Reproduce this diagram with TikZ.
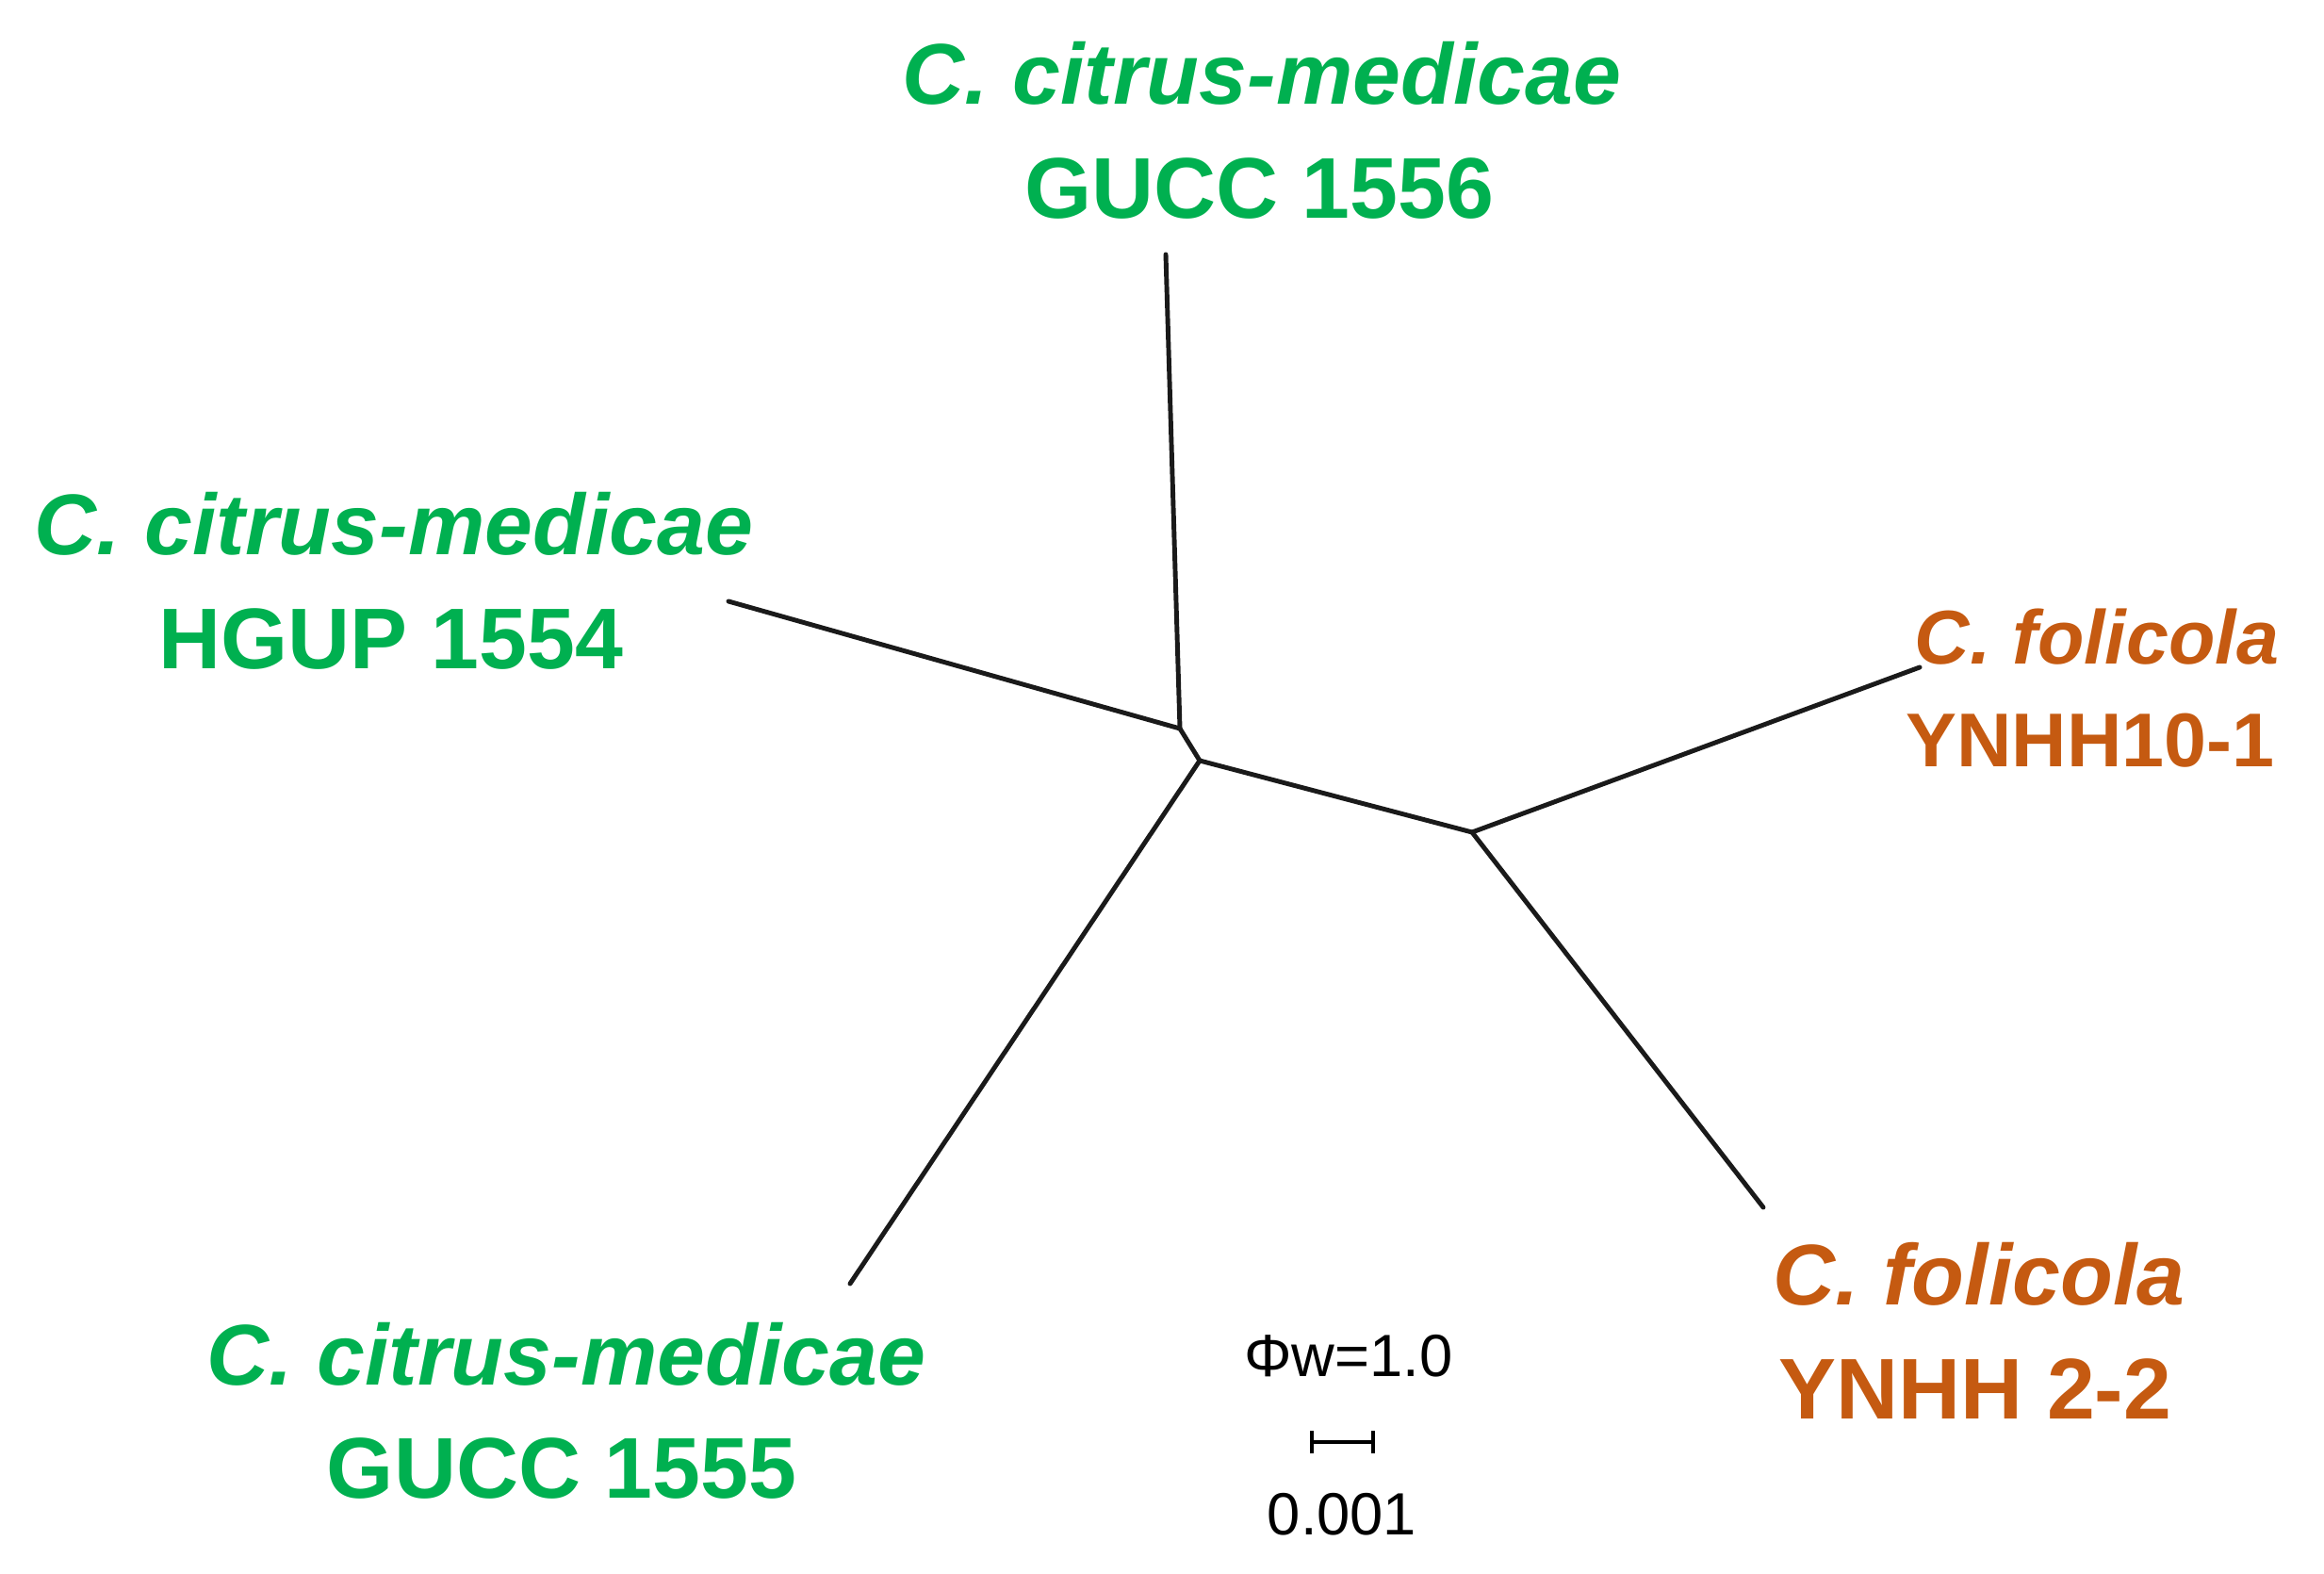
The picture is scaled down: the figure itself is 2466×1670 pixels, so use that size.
\documentclass[tikz,border=0pt]{standalone}
\usepackage{fontspec}
\setmainfont{Liberation Sans}
\definecolor{cmgreen}{HTML}{00B050}
\definecolor{fogold}{HTML}{C55A11}
\definecolor{branch}{HTML}{1A1A1A}
\begin{document}
\begin{tikzpicture}[x=0.01cm,y=-0.01cm,
  branchline/.style={draw=branch,line width=1.4pt,line cap=round,line join=round},
  lbl/.style={inner sep=0pt,outer sep=0pt,anchor=base},
  greenlbl/.style={lbl,text=cmgreen,font=\fontsize{26}{30}\selectfont\bfseries},
  orangebig/.style={lbl,text=fogold,font=\fontsize{26}{30}\selectfont\bfseries},
  orangesmall/.style={lbl,text=fogold,font=\fontsize{23}{27}\selectfont\bfseries},
  scaletxt/.style={lbl,text=black,font=\fontsize{18}{21}\selectfont}
]
\useasboundingbox (0,0) rectangle (2466,1670);
\fill[white] (0,0) rectangle (2466,1670);

% internal junctions
\coordinate (jA) at (1252,773);
\coordinate (jB) at (1273,807);
\coordinate (jC) at (1562,883);
% leaf tips
\coordinate (tTop) at (1237,270);
\coordinate (tHGUP) at (773,638);
\coordinate (tY10) at (2037,708);
\coordinate (tY22) at (1871,1281);
\coordinate (tG55) at (902,1362);

\draw[branchline] (jA) -- (tTop);
\draw[branchline] (jA) -- (tHGUP);
\draw[branchline] (jA) -- (jB);
\draw[branchline] (jB) -- (tG55);
\draw[branchline] (jB) -- (jC);
\draw[branchline] (jC) -- (tY10);
\draw[branchline] (jC) -- (tY22);

% labels
\node[greenlbl] (top1) at (1339,111) {\itshape C. citrus-medicae};
\node[greenlbl] (top2) at (1336,232) {GUCC 1556};
\node[greenlbl] (hg1) at (418,589) {\itshape C. citrus-medicae};
\node[greenlbl] (hg2) at (415,709) {HGUP 1554};
\node[greenlbl] (bl1) at (601,1469) {\itshape C. citrus-medicae};
\node[greenlbl] (bl2) at (596,1589) {GUCC 1555};
\node[orangesmall] (tr1) at (2225,704) {\itshape C. folicola};
\node[orangesmall] (tr2) at (2218,813) {YNHH10-1};
\node[orangebig] (br1) at (2100,1384) {\itshape C. folicola};
\node[orangebig] (br2) at (2096,1505) {YNHH 2-2};

% scale bar
\node[scaletxt] (phiw) at (1431,1460) {Φw=1.0};
\coordinate (sbL) at (1392,1530);
\coordinate (sbR) at (1457,1530);
\draw[line width=1.4pt,black] (sbL) -- (sbR);
\draw[line width=1.4pt,black] ([yshift=0.12cm]sbL) -- ([yshift=-0.12cm]sbL);
\draw[line width=1.4pt,black] ([yshift=0.12cm]sbR) -- ([yshift=-0.12cm]sbR);
\node[scaletxt] (sbval) at (1424,1628) {0.001};
\end{tikzpicture}
\end{document}
